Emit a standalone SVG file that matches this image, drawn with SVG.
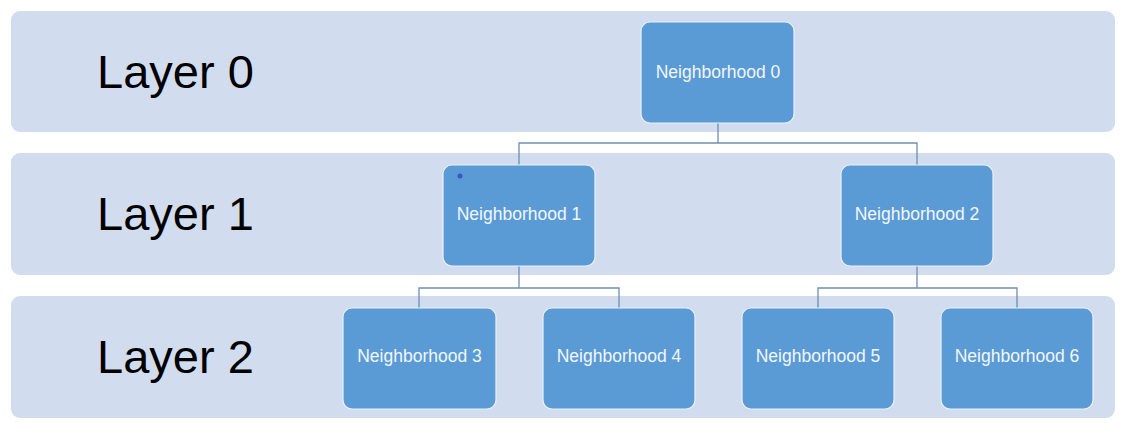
<svg xmlns="http://www.w3.org/2000/svg" width="1126" height="435" viewBox="0 0 1126 435">
<style>
.band{fill:#d1ddee}
.layer{font-family:"Liberation Sans",Arial,sans-serif;font-size:47px;fill:#000}
.node rect{fill:#5b9bd5;stroke:#e8f0fa;stroke-width:1.2}
.node text{font-family:"Liberation Sans",Arial,sans-serif;font-size:17.5px;fill:#f2f6fc;text-anchor:middle}
.conn{fill:none;stroke:#6f8fae;stroke-width:1.3}
</style>
<rect width="1126" height="435" fill="#fff"/>
<g id="bands">
<rect class="band" x="11" y="11" width="1104" height="121" rx="9"/>
<rect class="band" x="11" y="153" width="1104" height="122" rx="9"/>
<rect class="band" x="11" y="296" width="1104" height="122" rx="9"/>
<text class="layer" x="97" y="88">Layer 0</text>
<text class="layer" x="97" y="230">Layer 1</text>
<text class="layer" x="97" y="373">Layer 2</text>
</g>
<g id="connectors">
<path class="conn" d="M718,123V143M519,165V143H917V165"/>
<path class="conn" d="M519,266V288M419,308V288H619V308"/>
<path class="conn" d="M917,266V288M818,308V288H1017V308"/>
</g>
<g id="n0" class="node"><rect x="641" y="22" width="153" height="101" rx="9"/><text x="718" y="78">Neighborhood 0</text></g>
<g id="n1" class="node"><rect x="443" y="165" width="152" height="101" rx="9"/><text x="519" y="220">Neighborhood 1</text><circle cx="460" cy="176" r="2.5" fill="#3a55cc"/></g>
<g id="n2" class="node"><rect x="841" y="165" width="152" height="101" rx="9"/><text x="917" y="220">Neighborhood 2</text></g>
<g id="n3" class="node"><rect x="343" y="308" width="153" height="101" rx="9"/><text x="419.5" y="362">Neighborhood 3</text></g>
<g id="n4" class="node"><rect x="543" y="308" width="152" height="101" rx="9"/><text x="619" y="362">Neighborhood 4</text></g>
<g id="n5" class="node"><rect x="742" y="308" width="152" height="101" rx="9"/><text x="818" y="362">Neighborhood 5</text></g>
<g id="n6" class="node"><rect x="941" y="308" width="152" height="101" rx="9"/><text x="1017" y="362">Neighborhood 6</text></g>
</svg>
